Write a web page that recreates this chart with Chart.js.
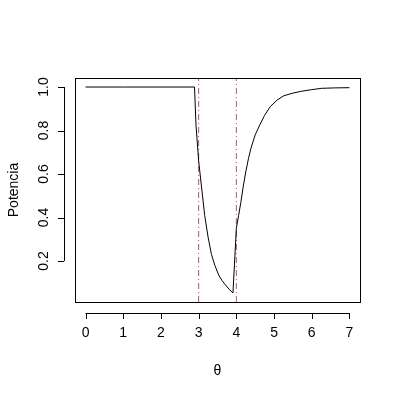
<!DOCTYPE html>
<html>
<head>
<meta charset="utf-8">
<script src="https://cdn.jsdelivr.net/npm/chart.js@4"></script>
<style>body{margin:0;background:#fff}</style>
</head>
<body>
<canvas id="c" width="400" height="400"></canvas>
<script>
// valores
const theta = [0, 1, 2, 2.89, 2.93, 3.0, 3.07, 3.16, 3.25, 3.34, 3.43, 3.53, 3.62, 3.71, 3.81, 3.91, 4.0, 4.06, 4.12, 4.18, 4.25, 4.32, 4.39, 4.5, 4.62, 4.75, 4.9, 5.08, 5.26, 5.5, 5.71, 6.0, 6.26, 6.6, 7.0];
const potencia = [1, 1, 1, 1, 0.825, 0.66, 0.55, 0.41, 0.31, 0.23, 0.18, 0.136, 0.11, 0.09, 0.07, 0.053, 0.35, 0.41, 0.47, 0.54, 0.61, 0.67, 0.72, 0.78, 0.825, 0.87, 0.91, 0.94, 0.96, 0.972, 0.98, 0.988, 0.994, 0.996, 0.997];
const limites = [3, 4];
const xTicks = [0, 1, 2, 3, 4, 5, 6, 7];
const yTicks = [0.2, 0.4, 0.6, 0.8, 1.0];
const xMin = -0.28, xMax = 7.28, yMin = 0.0115, yMax = 1.0415;

const font = '14px "Liberation Sans", Arial, sans-serif';

const ejesR = {
  id: 'ejesR',
  afterDraw(chart) {
    const ctx = chart.ctx, a = chart.chartArea;
    const sx = chart.scales.x, sy = chart.scales.y;
    ctx.save();
    ctx.strokeStyle = '#000';
    ctx.lineWidth = 1;
    ctx.strokeRect(a.left + 0.5, a.top + 0.5, a.right - a.left, a.bottom - a.top);
    ctx.fillStyle = '#000';
    ctx.font = font;
    // eje x
    const yAx = a.bottom + 11;
    ctx.beginPath();
    ctx.moveTo(sx.getPixelForValue(xTicks[0]), yAx + 0.5);
    ctx.lineTo(sx.getPixelForValue(xTicks[xTicks.length - 1]), yAx + 0.5);
    xTicks.forEach(t => {
      const px = Math.round(sx.getPixelForValue(t)) + 0.5;
      ctx.moveTo(px, yAx);
      ctx.lineTo(px, yAx + 6);
    });
    ctx.stroke();
    ctx.textAlign = 'center';
    ctx.textBaseline = 'middle';
    xTicks.forEach(t => ctx.fillText(String(t), sx.getPixelForValue(t), yAx + 20));
    ctx.fillText('θ', (a.left + a.right) / 2, 371);
    // eje y
    const xAx = a.left - 11;
    ctx.beginPath();
    ctx.moveTo(xAx + 0.5, sy.getPixelForValue(yTicks[0]));
    ctx.lineTo(xAx + 0.5, sy.getPixelForValue(yTicks[yTicks.length - 1]));
    yTicks.forEach(t => {
      const py = Math.round(sy.getPixelForValue(t)) + 0.5;
      ctx.moveTo(xAx, py);
      ctx.lineTo(xAx - 6, py);
    });
    ctx.stroke();
    yTicks.forEach(t => {
      ctx.save();
      ctx.translate(xAx - 20, sy.getPixelForValue(t));
      ctx.rotate(-Math.PI / 2);
      ctx.fillText(t.toFixed(1), 0, 0);
      ctx.restore();
    });
    ctx.save();
    ctx.translate(14, (a.top + a.bottom) / 2);
    ctx.rotate(-Math.PI / 2);
    ctx.fillText('Potencia', 0, 0);
    ctx.restore();
    ctx.restore();
  }
};

const datasets = [{
  data: theta.map((t, i) => ({ x: t, y: potencia[i] })),
  borderColor: '#000',
  borderWidth: 1,
  pointRadius: 0,
  tension: 0
}];
limites.forEach(l => datasets.push({
  data: [{ x: l, y: yMin }, { x: l, y: yMax }],
  borderColor: '#a8587a',
  borderWidth: 1,
  borderDash: [6, 3, 1, 3],
  pointRadius: 0
}));

new Chart(document.getElementById('c').getContext('2d'), {
  type: 'line',
  data: { datasets },
  options: {
    responsive: false,
    animation: false,
    layout: { padding: { left: 75, right: 40, top: 78, bottom: 98 } },
    plugins: { legend: { display: false }, tooltip: { enabled: false } },
    scales: {
      x: { type: 'linear', min: xMin, max: xMax, display: false },
      y: { type: 'linear', min: yMin, max: yMax, display: false }
    }
  },
  plugins: [ejesR]
});
</script>
</body>
</html>
